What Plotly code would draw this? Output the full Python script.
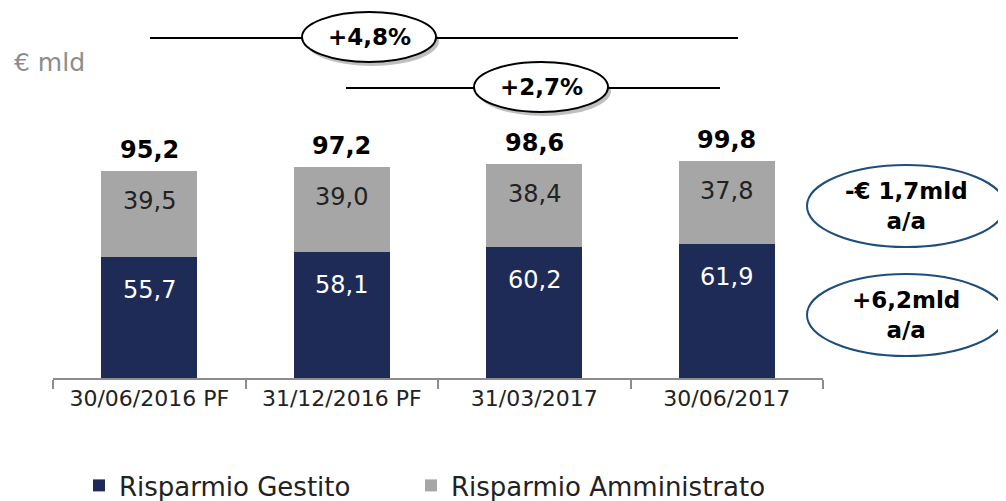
import plotly.graph_objects as go

categories = ["30/06/2016 PF", "31/12/2016 PF", "31/03/2017", "30/06/2017"]
gestito = [55.7, 58.1, 60.2, 61.9]
amministrato = [39.5, 39.0, 38.4, 37.8]
totals = [95.2, 97.2, 98.6, 99.8]

DARK = "#1e2b57"
GREY = "#a6a6a6"
FONT = "'DejaVu Sans', sans-serif"

# page body has an 8px margin, so the figure is drawn 8px in from the corner
OFF = 8
W, H = 1006, 501
# plot area in reference pixels
X0, X1 = 53, 823
Y_AXIS, Y_TOP = 378, 139


def px(x):
    return (x - X0) / (X1 - X0)


def py(y):
    return (Y_AXIS - y) / (Y_AXIS - Y_TOP)


def fmt(v):
    return f"{v:.1f}".replace(".", ",")


fig = go.Figure()
fig.add_trace(go.Bar(x=categories, y=gestito, name="Risparmio Gestito", legend="legend",
                     showlegend=True,
                     marker=dict(color=DARK, line=dict(width=0)), hoverinfo="skip"))
fig.add_trace(go.Bar(x=categories, y=amministrato, name="Risparmio Amministrato",
                     legend="legend2", showlegend=True,
                     marker=dict(color=GREY, line=dict(width=0)), hoverinfo="skip"))

annotations = []
for c, g, a, t in zip(categories, gestito, amministrato, totals):
    annotations.append(dict(x=c, y=g, yshift=-33, text=fmt(g), showarrow=False,
                            yanchor="middle",
                            font=dict(color="white", size=24, family=FONT)))
    annotations.append(dict(x=c, y=g + a, yshift=-30, text=fmt(a), showarrow=False,
                            yanchor="middle",
                            font=dict(color="#222222", size=24, family=FONT)))
    annotations.append(dict(x=c, y=t, yanchor="bottom", yshift=5, text=f"<b>{fmt(t)}</b>",
                            showarrow=False, font=dict(color="black", size=24, family=FONT)))

annotations.append(dict(xref="paper", yref="paper", x=px(12), y=py(62), xanchor="left",
                        yanchor="middle", text="€ mld", showarrow=False,
                        font=dict(color="#8c8c8c", size=25, family=FONT)))

shapes = []


def bubble(cx, cy, w, h, text, line_color, shadow):
    if shadow:
        shapes.append(dict(type="circle", xref="paper", yref="paper",
                           x0=px(cx - w / 2 + 3), x1=px(cx + w / 2 + 3),
                           y0=py(cy - h / 2 + 4), y1=py(cy + h / 2 + 4),
                           fillcolor="rgba(0,0,0,0.25)", line=dict(width=0)))
    shapes.append(dict(type="circle", xref="paper", yref="paper",
                       x0=px(cx - w / 2), x1=px(cx + w / 2),
                       y0=py(cy - h / 2), y1=py(cy + h / 2),
                       fillcolor="white", line=dict(color=line_color, width=2)))
    annotations.append(dict(xref="paper", yref="paper", x=px(cx), y=py(cy), text=text,
                            xanchor="center", yanchor="middle", showarrow=False,
                            font=dict(color="black", size=23, family=FONT)))


# growth lines
shapes.append(dict(type="line", xref="paper", yref="paper", x0=px(150), x1=px(738),
                   y0=py(38), y1=py(38), line=dict(color="black", width=2)))
shapes.append(dict(type="line", xref="paper", yref="paper", x0=px(346), x1=px(720),
                   y0=py(88), y1=py(88), line=dict(color="black", width=2)))
bubble(369, 37, 134, 50, "<b>+4,8%</b>", "black", True)
bubble(541, 87, 134, 50, "<b>+2,7%</b>", "black", True)
bubble(906, 206, 198, 82, "<b>-€ 1,7mld<br>a/a</b>", "#1f4e79", False)
bubble(906, 315, 198, 82, "<b>+6,2mld<br>a/a</b>", "#1f4e79", False)

legend_style = dict(orientation="h", xanchor="left", yanchor="top", y=py(462),
                    font=dict(size=26, color="#222222"), bgcolor="rgba(0,0,0,0)")

fig.update_layout(
    barmode="stack",
    bargap=0.5,
    showlegend=True,
    width=W - OFF,
    height=H - OFF,
    margin=dict(l=X0 - OFF, r=W - X1, t=Y_TOP - OFF, b=H - Y_AXIS, autoexpand=False),
    plot_bgcolor="white",
    paper_bgcolor="white",
    font=dict(family=FONT, color="#222222"),
    xaxis=dict(showline=True, linecolor="#8c8c8c", linewidth=2, ticks="outside",
               tickson="boundaries", ticklen=9, tickwidth=2, tickcolor="#8c8c8c",
               tickfont=dict(size=22, color="#222222"), showgrid=False, fixedrange=True),
    yaxis=dict(visible=False, range=[0, 110], fixedrange=True),
    legend=dict(x=px(79), **legend_style),
    legend2=dict(x=px(411), **legend_style),
    annotations=annotations,
    shapes=shapes,
)

fig.write_html("out.html")
